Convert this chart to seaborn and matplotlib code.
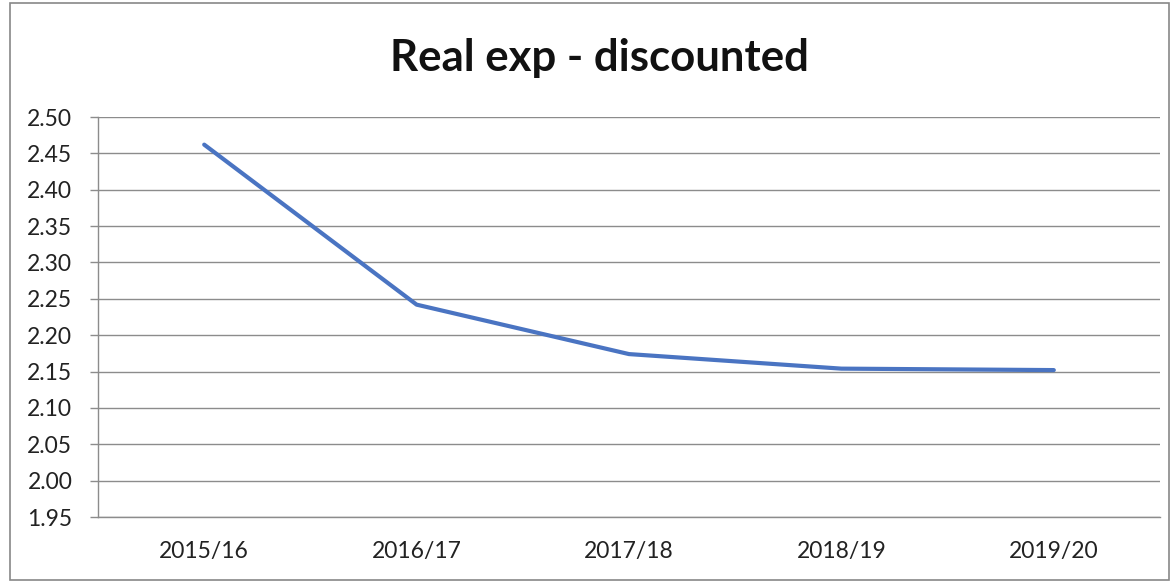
import matplotlib
matplotlib.use("Agg")
import matplotlib.pyplot as plt
from matplotlib.patches import Rectangle
from matplotlib.ticker import FixedLocator, FormatStrFormatter
import seaborn as sns
import pandas as pd

years = ["2015/16", "2016/17", "2017/18", "2018/19", "2019/20"]
values = [2.462, 2.242, 2.174, 2.154, 2.152]
title = "Real exp - discounted"

sns.set_theme(style="white")
plt.rcParams['font.family'] = ['Lato', 'DejaVu Sans']

fig = plt.figure(figsize=(11.73, 5.82), dpi=100)
ax = fig.add_axes([98/1173, 1-517/582, (1160-98)/1173, (517-117)/582])

df = pd.DataFrame({"year": years, "value": values})
sns.lineplot(data=df, x="year", y="value", ax=ax, color="#4A74C2", linewidth=3.0, sort=False)

ax.set_xlim(-0.5, len(years) - 0.5)
ax.set_ylim(1.95, 2.50)
yt = [1.95 + 0.05 * i for i in range(12)]
ax.set_yticks(yt)
ax.yaxis.set_major_formatter(FormatStrFormatter("%.2f"))
ax.yaxis.grid(True, color="#8C8C8C", linewidth=1.0)
ax.set_axisbelow(True)
ax.set_xlabel("")
ax.set_ylabel("")

ax.xaxis.set_minor_locator(FixedLocator([i - 0.5 for i in range(len(years) + 1)]))
ax.tick_params(axis="x", which="major", length=0, labelsize=16.5, pad=17, colors="#222222")
ax.tick_params(axis="x", which="minor", length=6, width=1, color="#8C8C8C", direction="out")
ax.tick_params(axis="y", which="major", length=5.5, width=1, color="#8C8C8C", labelsize=16.5, pad=13, labelcolor="#222222", left=True)

for s in ["top", "right"]:
    ax.spines[s].set_visible(False)
for s in ["left", "bottom"]:
    ax.spines[s].set_color("#8C8C8C")
    ax.spines[s].set_linewidth(1.0)

fig.text(599/1173, 1-58/582, title, ha="center", va="center", fontsize=31.5, fontweight="bold", color="#111111")

fig.patches.append(Rectangle((10/1173, 2/582), (1169-10)/1173, (579-2)/582,
                             transform=fig.transFigure, fill=False, edgecolor="#888888", linewidth=1.2))

fig.savefig("out.png", dpi=100)
